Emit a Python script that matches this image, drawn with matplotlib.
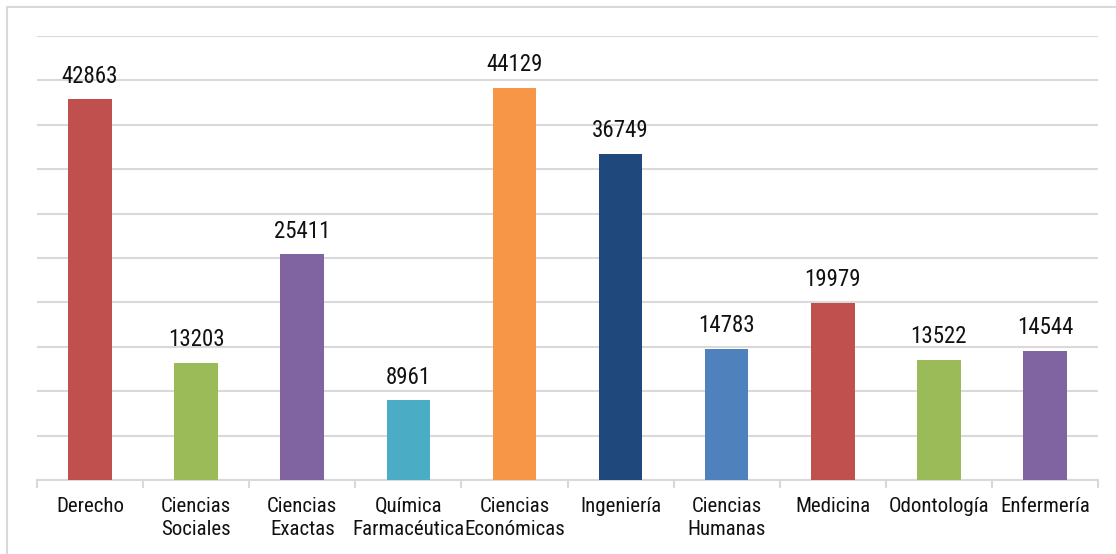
import numpy as np
import matplotlib.pyplot as plt
from matplotlib.patches import Rectangle

CATEGORIES = [
    "Derecho", "Ciencias\nSociales", "Ciencias\nExactas", "Química\nFarmacéutica",
    "Ciencias\nEconómicas", "Ingeniería", "Ciencias\nHumanas", "Medicina",
    "Odontología", "Enfermería",
]
VALUES = [42863, 13203, 25411, 8961, 44129, 36749, 14783, 19979, 13522, 14544]
COLORS = [
    "#C0504D", "#9BBB59", "#8064A2", "#4BACC6", "#F79646",
    "#1F497D", "#4F81BD", "#C0504D", "#9BBB59", "#8064A2",
]

plt.rcParams["font.family"] = ["Roboto Condensed", "Liberation Sans", "DejaVu Sans"]

W, H = 1116, 554
fig = plt.figure(figsize=(W / 100, H / 100), dpi=100)
ax = fig.add_axes([37 / W, 1 - 480 / H, (1098 - 37) / W, (480 - 36) / H])

x = np.arange(len(CATEGORIES))
ax.bar(x, VALUES, width=0.41, color=COLORS, zorder=3)

for xi, v in zip(x, VALUES):
    ax.annotate(str(v), (xi, v), xytext=(0, 12), textcoords="offset points",
                ha="center", va="baseline", fontsize=16.5, color="#111111")

ax.set_xlim(-0.5, len(CATEGORIES) - 0.5)
ax.set_ylim(0, 50000)
ax.set_yticks(np.arange(0, 50001, 5000))
ax.yaxis.grid(True, color="#D9D9D9", lw=1.5, zorder=0)
ax.tick_params(axis="y", length=0, labelleft=False)

ax.set_xticks(x)
ax.set_xticklabels(CATEGORIES, fontsize=15, linespacing=1.3, color="#111111")
ax.tick_params(axis="x", length=0, pad=12)
ax.set_xticks(np.arange(-0.5, len(CATEGORIES)), minor=True)
ax.tick_params(axis="x", which="minor", length=6, width=1.5, color="#D9D9D9")

for side in ("top", "right", "left"):
    ax.spines[side].set_visible(False)
ax.spines["bottom"].set_color("#D9D9D9")
ax.spines["bottom"].set_linewidth(1.5)

fig.patches.append(Rectangle((7 / W, -0.02), 1.05, 1 - 7 / H + 0.02,
                             transform=fig.transFigure, fill=False,
                             edgecolor="#D9D9D9", lw=1.5))

fig.savefig("out.png", dpi=100)
